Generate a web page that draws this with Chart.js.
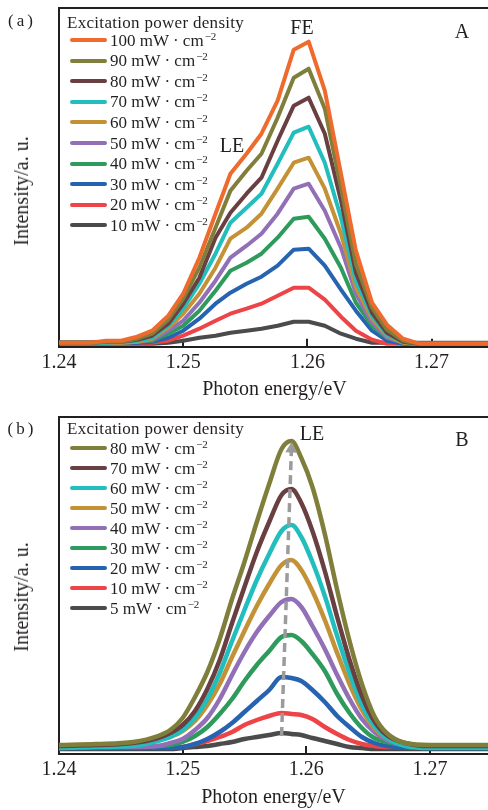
<!DOCTYPE html>
<html>
<head>
<meta charset="utf-8">
<script src="https://cdn.jsdelivr.net/npm/chart.js@4.4.1/dist/chart.umd.min.js"></script>
<style>
  html, body { margin: 0; padding: 0; background: #fff; }
  body { width: 488px; height: 810px; position: relative; overflow: hidden;
         font-family: "Liberation Serif", "Times New Roman", serif; color: #231f20; }
  .panel { position: absolute; left: 0; width: 488px; overflow: hidden; }
  #panelA { top: 0; height: 400px; }
  #panelB { top: 400px; height: 410px; }
  .panel canvas { position: absolute; left: 0; top: 0; display: block; }
  .lbl { position: absolute; white-space: nowrap; line-height: 1; font-size: 20px; transform: translate(-50%, -50%); }
  .tag { font-size: 17px; letter-spacing: 3px; }
  .ytitle { position: absolute; white-space: nowrap; line-height: 1; font-size: 20px;
            transform: translate(-50%, -50%) rotate(-90deg); }
  .legtitle { position: absolute; font-size: 17px; line-height: 1; white-space: nowrap;
              letter-spacing: 0.3px; transform: translateY(-50%); }
  .legrow { position: absolute; height: 20px; display: flex; align-items: center;
            font-size: 17px; line-height: 1; white-space: nowrap; transform: translateY(-50%); }
  .sw { display: inline-block; width: 37px; height: 4px; border-radius: 2px; margin-right: 3px; }
  .legrow sup { font-size: 11px; vertical-align: 6px; line-height: 0; margin-left: 1px; }
</style>
</head>
<body>

<div class="panel" id="panelA">
  <canvas id="chartA" width="490" height="400"></canvas>
  <div class="lbl tag" style="left:22px;top:20px">(a)</div>
  <div class="lbl" style="left:302px;top:27px">FE</div>
  <div class="lbl" style="left:232px;top:145px">LE</div>
  <div class="lbl" style="left:462px;top:31px">A</div>
  <div class="ytitle" style="left:21px;top:191px">Intensity/a. u.</div>
</div>

<div class="panel" id="panelB">
  <canvas id="chartB" width="495" height="410"></canvas>
  <div class="lbl tag" style="left:22px;top:28px">(b)</div>
  <div class="lbl" style="left:312px;top:33px">LE</div>
  <div class="lbl" style="left:462px;top:39px">B</div>
  <div class="ytitle" style="left:21px;top:197px">Intensity/a. u.</div>
</div>

<script>
// axis
const xTicks = [1.24, 1.25, 1.26, 1.27];
const xTickLabels = ['1.24', '1.25', '1.26', '1.27'];
const xMin = 1.24;
const xMax = 1.2747;

// ---- panel A : sample A, FE + LE ----
const energyA = [1.2400, 1.2413, 1.2425, 1.2438, 1.2450, 1.2463, 1.2475, 1.2488, 1.2500, 1.2513,
                 1.2526, 1.2538, 1.2551, 1.2563, 1.2576, 1.2589, 1.2601, 1.2614, 1.2627, 1.2639,
                 1.2652, 1.2664, 1.2677, 1.2690, 1.2702, 1.2715, 1.2727, 1.2740, 1.2750];
const powerA = ['100', '90', '80', '70', '60', '50', '40', '30', '20', '10'];
const colorsA = ['#ef6a2d', '#7f7f3b', '#6a3f41', '#22bdbd', '#c39236', '#9170b7', '#2e9b5d', '#2663b0', '#ee4347', '#4b4b4b'];

const a100 = [4, 4, 4, 6, 6, 10, 16, 31, 53, 89, 133, 173, 193, 213, 246, 297, 305, 256, 173, 96, 44, 22, 8, 3, 3, 3, 3, 3, 3];
const a90  = [4, 4, 4, 5, 5, 8, 13, 27, 48, 79, 119, 156, 176, 193, 229, 269, 278, 238, 159, 83, 39, 17, 6, 3, 3, 3, 3, 3, 3];
const a80  = [4, 4, 4, 5, 5, 7, 11, 23, 43, 69, 109, 134, 153, 169, 206, 241, 249, 213, 146, 74, 34, 14, 5, 3, 3, 3, 3, 3, 3];
const a70  = [4, 4, 4, 4, 5, 6, 9, 21, 38, 63, 93, 124, 139, 153, 183, 214, 220, 184, 129, 66, 31, 12, 5, 3, 3, 3, 3, 3, 3];
const a60  = [4, 4, 4, 4, 4, 5, 8, 19, 33, 53, 79, 108, 119, 133, 158, 184, 189, 158, 113, 59, 28, 11, 4, 3, 3, 3, 3, 3, 3];
const a50  = [4, 4, 4, 4, 4, 5, 7, 16, 26, 44, 66, 89, 101, 113, 133, 158, 163, 136, 99, 53, 24, 9, 4, 3, 3, 3, 3, 3, 3];
const a40  = [4, 4, 4, 4, 4, 5, 6, 13, 21, 36, 56, 76, 84, 93, 109, 128, 130, 108, 79, 44, 21, 9, 4, 3, 3, 3, 3, 3, 3];
const a30  = [4, 4, 4, 4, 4, 4, 5, 9, 16, 28, 43, 54, 63, 70, 81, 97, 98, 81, 57, 36, 16, 6, 3, 3, 3, 3, 3, 3, 3];
const a20  = [4, 4, 4, 4, 4, 4, 4, 6, 11, 18, 26, 33, 38, 43, 51, 59, 59, 47, 30, 16, 7, 3, 3, 3, 3, 3, 3, 3, 3];
const a10  = [3, 3, 3, 3, 3, 3, 3, 4, 6, 9, 11, 14, 16, 18, 21, 25, 25, 21, 13, 8, 4, 4, 4, 4, 4, 4, 4, 4, 4];
const seriesA = [a100, a90, a80, a70, a60, a50, a40, a30, a20, a10];

// ---- panel B : sample B, LE only ----
const energyB = [1.2400, 1.2430, 1.2460, 1.2480, 1.2490, 1.2500, 1.2510, 1.2520, 1.2530, 1.2540,
                 1.2550, 1.2560, 1.2570, 1.2580, 1.2588, 1.2596, 1.2605, 1.2615, 1.2625, 1.2635,
                 1.2645, 1.2655, 1.2665, 1.2680, 1.2700, 1.2720, 1.2750];
const powerB = ['80', '70', '60', '50', '40', '30', '20', '10', '5'];
const colorsB = ['#7f7f3b', '#6a3f41', '#22bdbd', '#c39236', '#9170b7', '#2e9b5d', '#2663b0', '#ee4347', '#4b4b4b'];

const b80 = [9, 10, 12, 18, 24, 36, 57, 82, 115, 155, 192, 232, 270, 305, 313, 296, 267, 220, 164, 113, 70, 38, 21, 11, 9, 9, 9];
const b70 = [8, 9, 11, 16, 21, 29, 43, 65, 94, 131, 167, 202, 232, 259, 265, 251, 223, 183, 137, 94, 58, 33, 19, 11, 8, 8, 8];
const b60 = [6, 7, 8, 13, 17, 24, 36, 55, 81, 113, 144, 174, 200, 223, 229, 217, 192, 158, 118, 81, 49, 28, 16, 8, 6, 6, 6];
const b50 = [8, 9, 10, 14, 17, 23, 33, 49, 70, 97, 123, 148, 170, 189, 194, 184, 163, 134, 101, 70, 44, 26, 16, 10, 8, 8, 8];
const b40 = [7, 7, 7, 8, 11, 15, 24, 36, 55, 79, 102, 122, 138, 152, 155, 147, 128, 105, 79, 55, 35, 22, 14, 9, 7, 7, 7];
const b30 = [8, 8, 8, 8, 9, 12, 18, 27, 40, 55, 73, 89, 103, 117, 119, 113, 100, 83, 60, 41, 26, 16, 12, 9, 8, 8, 8];
const b20 = [6, 6, 6, 6, 6, 7, 10, 15, 22, 31, 42, 53, 64, 77, 76, 73, 64, 52, 38, 27, 17, 11, 8, 7, 6, 6, 6];
const b10 = [7, 7, 7, 7, 7, 7, 10, 13, 17, 22, 29, 34, 38, 41, 40, 39, 35, 27, 20, 14, 10, 8, 7, 7, 7, 7, 7];
const b5  = [5, 5, 5, 5, 5, 6, 7, 8, 10, 12, 15, 17, 19, 21, 20, 19, 16, 13, 10, 7, 6, 5, 5, 5, 5, 5, 5];
const seriesB = [b80, b70, b60, b50, b40, b30, b20, b10, b5];

// LE shift arrow (grey dashed)
const arrowE = [1.2580, 1.2588];
const arrowI = [18, 305];

Chart.defaults.font.family = '"Liberation Serif", "Times New Roman", serif';
Chart.defaults.color = '#231f20';

const ink = '#231f20';

function buildOptions(yMax, padTop, axisHeight, titlePadBottom) {
    return {
        responsive: false,
        animation: false,
        devicePixelRatio: 1,
        layout: { padding: { top: padTop, right: 0, bottom: 0, left: 0 } },
        plugins: { legend: { display: false }, tooltip: { enabled: false } },
        elements: { point: { radius: 0 } },
        scales: {
            x: {
                type: 'linear',
                position: 'bottom',
                min: xMin,
                max: xMax,
                afterBuildTicks: s => { s.ticks = xTicks.map(v => ({ value: v })); },
                afterFit: s => { s.height = axisHeight; },
                ticks: {
                    padding: 12,
                    maxRotation: 0,
                    autoSkip: false,
                    color: ink,
                    font: { size: 20 },
                    callback: (v, i) => xTickLabels[i]
                },
                grid: { display: true, drawOnChartArea: false, drawTicks: true, tickLength: -8, color: ink, lineWidth: 2 },
                border: { display: true, color: ink, width: 2 },
                title: {
                    display: true,
                    text: 'Photon energy/eV',
                    color: ink,
                    font: { size: 20, lineHeight: 1 },
                    padding: { top: 0, bottom: titlePadBottom }
                }
            },
            xTop: {
                type: 'linear',
                position: 'top',
                min: xMin,
                max: xMax,
                afterFit: s => { s.height = 0; },
                ticks: { display: false },
                grid: { display: false },
                border: { display: true, color: ink, width: 2 }
            },
            y: {
                type: 'linear',
                min: 0,
                max: yMax,
                afterFit: s => { s.width = 59; },
                ticks: { display: false },
                grid: { display: false },
                border: { display: true, color: ink, width: 2 }
            }
        }
    };
}

function curveSets(energies, series, labels, colors, smooth) {
    return series.map((vals, i) => ({
        label: labels[i] + ' mW·cm-2',
        data: vals.map((v, k) => ({ x: energies[k], y: v })),
        borderColor: colors[i],
        borderWidth: smooth ? 4.5 : 4,
        borderCapStyle: 'round',
        borderJoinStyle: 'round',
        pointRadius: 0,
        tension: 0,
        cubicInterpolationMode: smooth ? 'monotone' : 'default'
    }));
}

function buildLegend(panelId, titleY, rowY0, rowStep, labels, colors) {
    const panel = document.getElementById(panelId);
    const t = document.createElement('div');
    t.className = 'legtitle';
    t.style.left = '67px';
    t.style.top = titleY + 'px';
    t.textContent = 'Excitation power density';
    panel.appendChild(t);
    labels.forEach((p, i) => {
        const row = document.createElement('div');
        row.className = 'legrow';
        row.style.left = '70px';
        row.style.top = (rowY0 + i * rowStep) + 'px';
        row.innerHTML = '<span class="sw" style="background:' + colors[i] + '"></span>' +
                        '<span>' + p + ' mW · cm<sup>−2</sup></span>';
        panel.appendChild(row);
    });
}

window.onload = function() {
    // canvases are a few px wider than the page so the plot runs off the right edge
    new Chart(document.getElementById('chartA'), {
        type: 'line',
        data: { datasets: curveSets(energyA, seriesA, powerA, colorsA, false) },
        options: buildOptions(338.7, 8, 53.3, 0)
    });

    const setsB = curveSets(energyB, seriesB, powerB, colorsB, true);
    setsB.unshift({
        label: 'LE shift',
        data: arrowE.map((e, k) => ({ x: e, y: arrowI[k] })),
        borderColor: '#9b9b9b',
        borderWidth: 3.5,
        borderDash: [9, 5],
        tension: 0,
        pointRadius: [0, 7],
        pointStyle: 'triangle',
        rotation: 2,
        pointBackgroundColor: '#9b9b9b',
        pointBorderWidth: 0
    });
    new Chart(document.getElementById('chartB'), {
        type: 'line',
        data: { datasets: setsB },
        options: buildOptions(337, 17, 56, 2)
    });

    buildLegend('panelA', 22, 40, 20.6, powerA, colorsA);
    buildLegend('panelB', 28, 48, 20, powerB, colorsB);
};
</script>
</body>
</html>
